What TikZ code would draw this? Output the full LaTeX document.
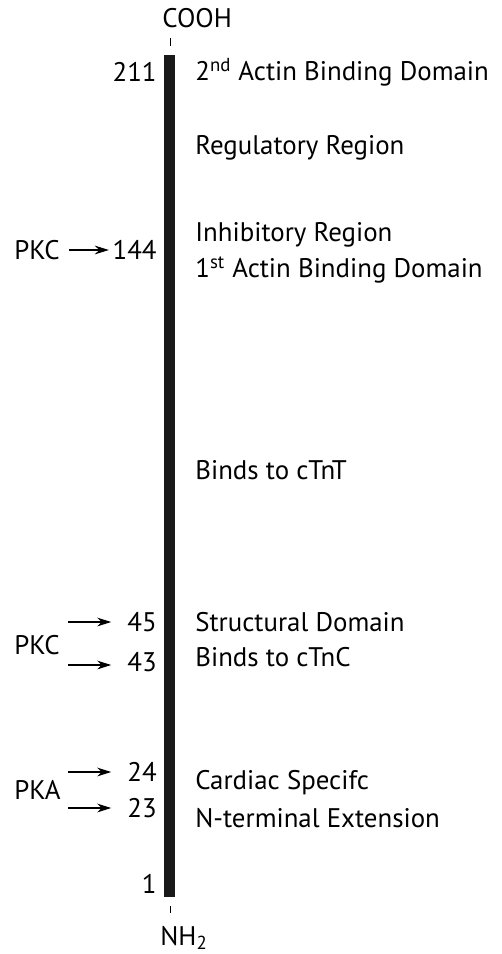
\documentclass[tikz,border=0pt]{standalone}
\usepackage{fontspec}
\setmainfont{PT Sans}
\usetikzlibrary{arrows.meta, positioning}

\begin{document}
\begin{tikzpicture}[
                x=0.02cm, y=-0.02cm,
                lbl/.style={font=\fontsize{15.3}{17}\selectfont, inner sep=0pt},
                num/.style={lbl, anchor=east},
                region/.style={lbl, anchor=west},
                site/.style={-{Stealth[length=8pt, width=5pt]}, semithick}
            ]
                \useasboundingbox (0,0) rectangle (501,954);
                % the chain
                \fill[black!90] (164,55) rectangle (175,897);
                \node[lbl, anchor=west] (cooh) at (162,18) {COOH};
                \node[lbl, anchor=west] (nh2) at (160,938) {NH\textsubscript{2}};
                \draw[thin] (170,38) -- (170,46);
                \draw[thin] (170,906) -- (170,913);

                % residue numbers
                \node[num] (n211) at (157,72) {211};
                \node[num] (n144) at (157,250) {144};
                \node[num] (n45) at (157,622) {45};
                \node[num] (n43) at (157,662) {43};
                \node[num] (n24) at (157,772) {24};
                \node[num] (n23) at (157,808) {23};
                \node[num] (n1) at (157,884) {1};

                % regions
                \node[region] (actin2) at (195,72) {2\textsuperscript{nd} Actin Binding Domain};
                \node[region] (regul) at (195,148) {Regulatory Region};
                \node[region] (inhib) at (195,235) {Inhibitory Region};
                \node[region] (actin1) at (195,270) {1\textsuperscript{st} Actin Binding Domain};
                \node[region] (ctnt) at (195,470) {Binds to cTnT};
                \node[region] (struct) at (195,622) {Structural Domain};
                \node[region] (ctnc) at (195,657) {Binds to cTnC};
                \node[region] (cardiac) at (195,783) {Cardiac Specifc};
                \node[region] (nterm) at (195,818) {N-terminal Extension};

                % kinases
                \node[lbl, anchor=west] (pkc1) at (14,250) {PKC};
                \node[lbl, anchor=west] (pkc2) at (14,645) {PKC};
                \node[lbl, anchor=west] (pka) at (14,790) {PKA};
                \coordinate (s45) at (68,622);
                \coordinate (s43) at (68,665);
                \coordinate (s24) at (68,772);
                \coordinate (s23) at (68,808);

                \draw[site] (pkc1.east) ++(9,0) coordinate (s144) -- ([xshift=-2]n144.west);
                \draw[site] (s45) -- ([xshift=-9]n45.west);
                \draw[site] (s43) -- ([xshift=-9]n43.west |- s43);
                \draw[site] (s24) -- ([xshift=-9]n24.west);
                \draw[site] (s23) -- ([xshift=-9]n23.west);
            \end{tikzpicture}
\end{document}
